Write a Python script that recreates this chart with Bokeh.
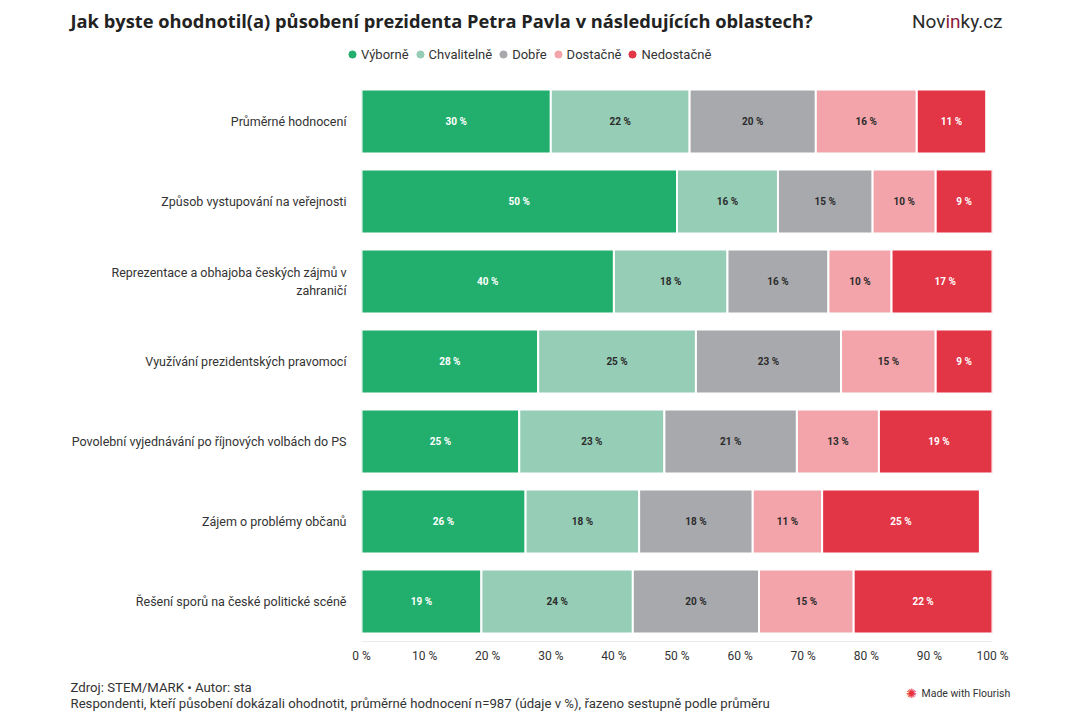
from bokeh.plotting import figure
from bokeh.layouts import column
from bokeh.models import ColumnDataSource, Label, Legend, LegendItem, FactorRange, Range1d, FixedTicker
from bokeh.core.properties import value
from bokeh.embed import file_html
from bokeh.resources import INLINE

# ---------------- data ----------------
categories = [
    "Průměrné hodnocení",
    "Způsob vystupování na veřejnosti",
    "Reprezentace a obhajoba českých zájmů v\nzahraničí",
    "Využívání prezidentských pravomocí",
    "Povolební vyjednávání po říjnových volbách do PS",
    "Zájem o problémy občanů",
    "Řešení sporů na české politické scéně",
]
series_names = ["Výborně", "Chvalitelně", "Dobře", "Dostačně", "Nedostačně"]
vyborne = [30, 50, 40, 28, 25, 26, 19]
chvalitelne = [22, 16, 18, 25, 23, 18, 24]
dobre = [20, 15, 16, 23, 21, 18, 20]
dostatecne = [16, 10, 10, 15, 13, 11, 15]
nedostatecne = [11, 9, 17, 9, 19, 25, 22]
colors = ["#22af6d", "#95cdb6", "#a7a9ad", "#f2a4aa", "#e23545"]
label_colors = ["#ffffff", "#2b2b2b", "#2b2b2b", "#2b2b2b", "#ffffff"]
x_ticks = [0, 10, 20, 30, 40, 50, 60, 70, 80, 90, 100]
x_tick_labels = ["0 %", "10 %", "20 %", "30 %", "40 %", "50 %", "60 %", "70 %", "80 %", "90 %", "100 %"]

title_text = "Jak byste ohodnotil(a) působení prezidenta Petra Pavla v následujících oblastech?"
source_line = "Zdroj: STEM/MARK • Autor: sta"
note_line = "Respondenti, kteří působení dokázali ohodnotit, průměrné hodnocení n=987 (údaje v %), řazeno sestupně podle průměru"

FONT = "Roboto"
W = 1064
TOP_H = 81
MAIN_H = 595
BOT_H = 36

series_values = [vyborne, chvalitelne, dobre, dostatecne, nedostatecne]
keys = ["s%d" % i for i in range(len(series_names))]
data = {"cat": categories}
for k, vals in zip(keys, series_values):
    data[k] = vals
source = ColumnDataSource(data)

# label positions (segment midpoints)
lx, ly, lt, lc = [], [], [], []
for j, cat in enumerate(categories):
    acc = 0
    for i, vals in enumerate(series_values):
        v = vals[j]
        lx.append(acc + v / 2)
        ly.append(cat)
        lt.append("%d %%" % v)
        lc.append(label_colors[i])
        acc += v
label_source = ColumnDataSource(dict(x=lx, y=ly, text=lt, color=lc))


def no_align(f):
    if "frame_align" in f.properties():
        f.frame_align = False
    return f


def blank(h):
    f = figure(width=W, height=h, x_range=Range1d(0, W), y_range=Range1d(0, h),
               output_backend="svg", toolbar_location=None,
               min_border=0, min_border_left=0, min_border_right=0,
               min_border_top=0, min_border_bottom=0)
    f.axis.visible = False
    f.grid.visible = False
    f.outline_line_color = None
    return no_align(f)


# ---------------- header ----------------
top = blank(TOP_H)
top.add_layout(Label(x=70, y=61, text=title_text,
                     text_font="Open Sans", text_font_size="18.3px", text_font_style="bold",
                     text_color="#222222", text_baseline="middle"))
top.add_layout(Label(x=945, y=60, text="Nov",
                     text_font=FONT, text_font_size="19px", text_color="#2b2b2b",
                     text_align="right", text_baseline="middle"))
top.add_layout(Label(x=945, y=60, text="in",
                     text_font=FONT, text_font_size="19px", text_color="#8c1c3e",
                     text_align="left", text_baseline="middle"))
top.add_layout(Label(x=960, y=60, text="ky.cz",
                     text_font=FONT, text_font_size="19px", text_color="#2b2b2b",
                     text_align="left", text_baseline="middle"))
items = []
nan = float("nan")
for name, c in zip(series_names, colors):
    r = top.scatter(x=[nan], y=[nan], marker="circle", color=c)
    items.append(LegendItem(label=name, renderers=[r]))
legend = Legend(items=items, orientation="horizontal", location=(343, 18),
                glyph_width=18, glyph_height=18, label_standoff=0, spacing=2,
                padding=0, margin=0, border_line_color=None,
                background_fill_alpha=0, label_text_font=FONT,
                label_text_font_size="13px", label_text_color="#333333")
top.add_layout(legend, "center")

# ---------------- main chart ----------------
p = figure(
    width=W, height=MAIN_H,
    y_range=FactorRange(*reversed(categories)),
    x_range=Range1d(0, 100),
    output_backend="svg", toolbar_location=None,
    min_border_left=361, min_border_right=72,
    min_border_top=0, min_border_bottom=35,
    background_fill_color="white", border_fill_color="white",
)
no_align(p)
p.outline_line_color = None
p.xgrid.visible = False
p.ygrid.visible = False

p.hbar_stack(keys, y="cat", height=0.8, color=colors, source=source,
             line_color="white", line_width=2)

p.text(x="x", y="y", text="text", text_color="color", source=label_source,
       text_align="center", text_baseline="middle",
       text_font=value(FONT), text_font_size="10px", text_font_style="bold")

p.xaxis.ticker = FixedTicker(ticks=x_ticks)
p.xaxis.major_label_overrides = {t: l for t, l in zip(x_ticks, x_tick_labels)}
p.xaxis.axis_line_color = "#e8ecee"
p.xaxis.major_tick_line_color = None
p.xaxis.minor_tick_line_color = None
p.xaxis.major_label_standoff = 1
p.xaxis.major_label_text_font = FONT
p.xaxis.major_label_text_font_size = "12px"
p.xaxis.major_label_text_color = "#333333"

p.yaxis.axis_line_color = None
p.yaxis.major_tick_line_color = None
p.yaxis.minor_tick_line_color = None
p.yaxis.major_label_standoff = 9
p.yaxis.major_label_text_font = FONT
p.yaxis.major_label_text_font_size = "12.5px"
p.yaxis.major_label_text_color = "#333333"

# ---------------- footer ----------------
bot = blank(BOT_H)
bot.add_layout(Label(x=70, y=25, text=source_line,
                     text_font=FONT, text_font_size="13.2px", text_color="#333333",
                     text_baseline="middle"))
bot.add_layout(Label(x=70, y=9, text=note_line,
                     text_font=FONT, text_font_size="13.2px", text_color="#333333",
                     text_baseline="middle"))
bot.add_layout(Label(x=911, y=19, text="✺",
                     text_font="DejaVu Sans", text_font_size="13px", text_color="#e8313b",
                     text_align="center", text_baseline="middle"))
bot.add_layout(Label(x=921, y=19, text="Made with Flourish",
                     text_font=FONT, text_font_size="10.5px", text_color="#333333",
                     text_baseline="middle"))

layout = column(top, p, bot, spacing=0)
open("out.html", "w").write(file_html(layout, INLINE))
